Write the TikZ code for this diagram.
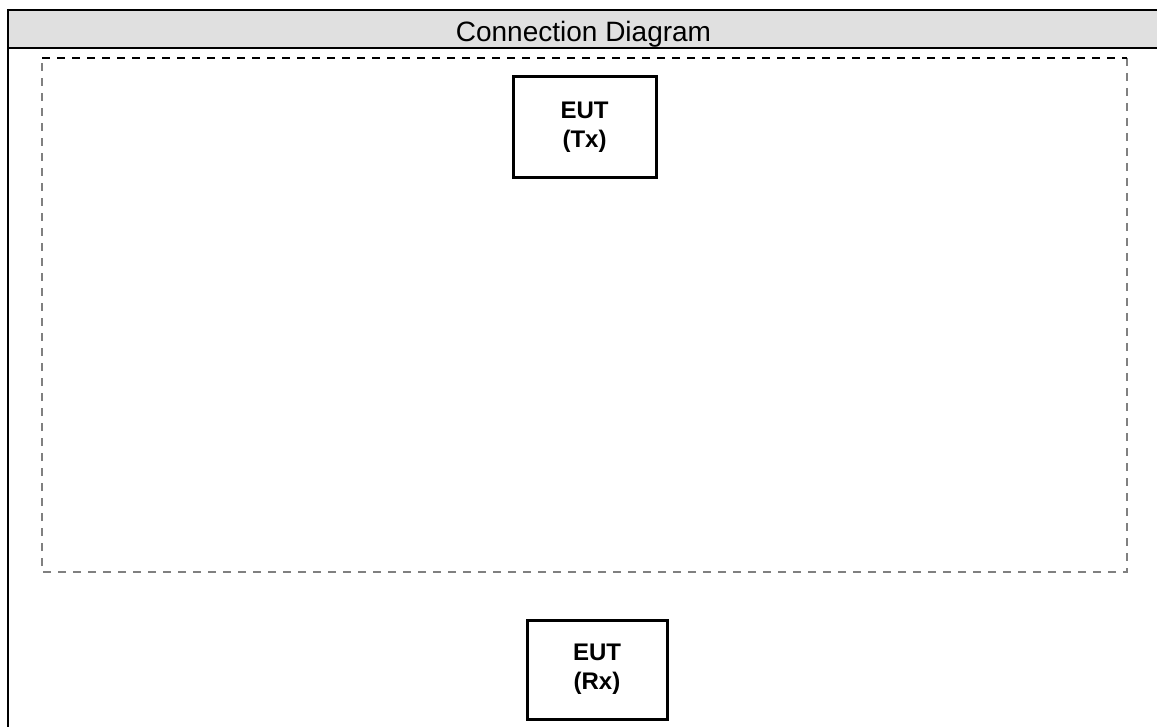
\documentclass[tikz,border=0pt]{standalone}
\usepackage{fontspec}
\setmainfont{Liberation Sans}
\definecolor{hdrfill}{HTML}{E0E0E0}
\definecolor{dashgray}{HTML}{808080}
\tikzset{
  eutbox/.style={draw=black, line width=3pt, fill=white, align=center,
    font=\fontsize{24}{29}\selectfont\bfseries, inner sep=0pt},
  framebar/.style={line width=2.5pt, draw=black},
  dashblack/.style={draw=black, line width=1.3pt, dash pattern=on 8pt off 7pt},
  dashgrey/.style={draw=dashgray, line width=1.4pt, dash pattern=on 8pt off 7pt},
}
\begin{document}
\begin{tikzpicture}[x=1pt,y=-1pt]
\useasboundingbox (0,0) rectangle (1157,727);
\begin{scope}
\clip (0,0) rectangle (1157,727);
% header band
\fill[hdrfill] (8,10) rectangle (1160,48);
\draw[framebar] (7,10) -- (1160,10);
\draw[framebar] (7,48) -- (1160,48);
\draw[framebar] (8,9) -- (8,730);
\node[anchor=base, font=\fontsize{28}{34}\selectfont, inner sep=0pt] (title) at (583.5,41.5) {Connection Diagram};
% dashed enclosure
\coordinate (dtl) at (42,58);
\coordinate (dtr) at (1127,58);
\coordinate (dbr) at (1127,572);
\coordinate (dbl) at (42,572);
\draw[dashgrey] (dtr) -- (dbr) -- (dbl) -- (dtl);
\draw[dashblack] (dtl) -- (dtr);
% EUT boxes
\node[eutbox, minimum width=143pt, minimum height=101pt] (tx) at (584.5,127.5) {EUT\\(Tx)};
\node[eutbox, minimum width=140pt, minimum height=99pt] (rx) at (597,669.5) {EUT\\(Rx)};
\end{scope}
\end{tikzpicture}
\end{document}
